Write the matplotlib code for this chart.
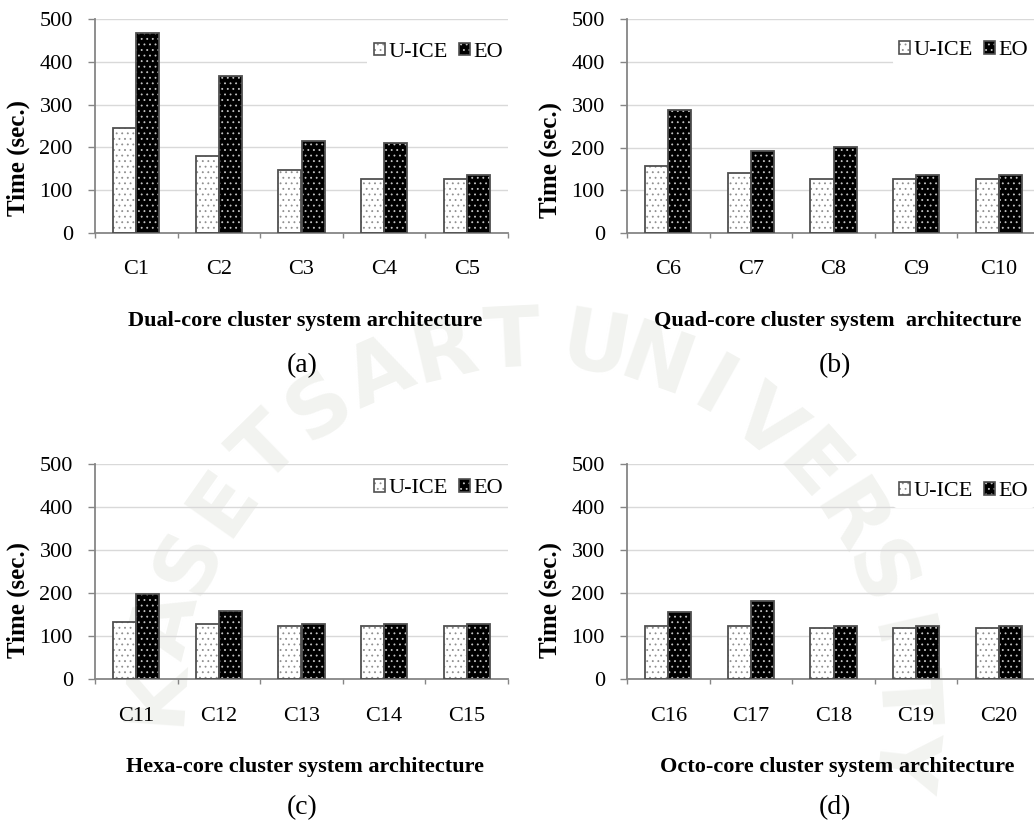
import numpy as np
import matplotlib
matplotlib.use("Agg")
import matplotlib.pyplot as plt
from matplotlib.patches import Patch
from matplotlib.legend_handler import HandlerTuple

# ---- data -------------------------------------------------------------
series_names = ["U-ICE", "EO"]

cats_dual = ["C1", "C2", "C3", "C4", "C5"]
uice_dual = [246, 180, 148, 126, 126]
eo_dual = [468, 366, 216, 210, 136]

cats_quad = ["C6", "C7", "C8", "C9", "C10"]
uice_quad = [157, 140, 126, 126, 126]
eo_quad = [287, 193, 202, 136, 136]

cats_hexa = ["C11", "C12", "C13", "C14", "C15"]
uice_hexa = [131, 126, 122, 122, 122]
eo_hexa = [197, 157, 126, 126, 126]

cats_octo = ["C16", "C17", "C18", "C19", "C20"]
uice_octo = [122, 122, 118, 118, 118]
eo_octo = [154, 180, 122, 122, 122]

xlabels = ["Dual-core cluster system architecture",
           "Quad-core cluster system  architecture",
           "Hexa-core cluster system architecture",
           "Octo-core cluster system architecture"]
panel_tags = ["(a)", "(b)", "(c)", "(d)"]
y_ticks = [0, 100, 200, 300, 400, 500]
y_title = "Time (sec.)"
seal_text = "KASETSART UNIVERSITY"

# ---- style ------------------------------------------------------------
W, H = 1034, 822
DPI = 100
SERIF = ["Liberation Serif", "DejaVu Serif"]
plt.rcParams["font.family"] = SERIF
plt.rcParams["hatch.linewidth"] = 0.6

GRID = "#d9d9d9"
AXIS = "#868686"
EDGE = "#505050"
styles = [
    dict(face="white", dots="#8f8f8f"),   # U-ICE
    dict(face="black", dots="#c4c4c4"),   # EO
]
BAR_W = 0.28
HATCH = "..."

fig = plt.figure(figsize=(W / DPI, H / DPI), dpi=DPI)
fig.patch.set_facecolor("white")


def px_axes(left, top, right, bottom):
    return fig.add_axes([left / W, 1 - bottom / H, (right - left) / W, (bottom - top) / H])


# faint university seal lettering in the background
cx, cy, r = 530, 718, 375
angles_left = [176 - 10.4 * i for i in range(9)]
angles_right = [80 - 9.6 * i for i in range(10)]
for ch, ang in zip(seal_text.replace(" ", ""), angles_left + angles_right):
    a = np.deg2rad(ang)
    x = cx + r * np.cos(a)
    y = cy - r * np.sin(a)
    fig.text(x / W, 1 - y / H, ch, fontsize=60, fontweight="bold",
             family="DejaVu Sans", color="#f2f3f0", rotation=ang - 90,
             ha="center", va="center", zorder=-5)

panels = [
    (cats_dual, uice_dual, eo_dual, (95, 19, 508, 233)),
    (cats_quad, uice_quad, eo_quad, (627, 19.5, 1040, 233)),
    (cats_hexa, uice_hexa, eo_hexa, (95, 464, 508, 678.5)),
    (cats_octo, uice_octo, eo_octo, (627, 464, 1040, 678.5)),
]
legend_y = [0.845, 0.855, 0.885, 0.872]
legend_x = [1.004, 0.988, 1.004, 0.988]
label_rows = [(270, 321, 366), (270, 321, 366), (716, 767, 808), (716, 767, 808)]
ytitle_y = [158, 160, 600, 600]

for k, (cats, uice, eo, box) in enumerate(panels):
    left, top, right, bottom = box
    ax = px_axes(left, top, right, bottom)
    ax.patch.set_alpha(0)
    x = np.arange(len(cats))
    handles = []
    for vals, st, off in zip([uice, eo], styles, [-BAR_W / 2, BAR_W / 2]):
        ax.bar(x + off, vals, BAR_W, color=st["face"], edgecolor=st["dots"],
               hatch=HATCH, linewidth=0, zorder=2)
        ax.bar(x + off, vals, BAR_W, facecolor="none", edgecolor=EDGE,
               linewidth=1.3, zorder=3)
        handles.append((Patch(facecolor=st["face"], edgecolor=st["dots"], hatch=HATCH, linewidth=0),
                        Patch(facecolor="none", edgecolor=EDGE, linewidth=1.2)))

    ax.set_xlim(-0.5, len(cats) - 0.5)
    ax.set_ylim(0, 500)
    ax.set_yticks(y_ticks)
    ax.yaxis.grid(True, color=GRID, linewidth=1.0)
    ax.set_axisbelow(True)
    for s in ["top", "right"]:
        ax.spines[s].set_visible(False)
    for s in ["left", "bottom"]:
        ax.spines[s].set_color(AXIS)
        ax.spines[s].set_linewidth(1.3)

    ax.tick_params(axis="y", length=5, width=1.0, color=AXIS, pad=11, labelsize=16)
    ax.set_xticks(x)
    ax.set_xticklabels(cats)
    ax.set_xticks(np.arange(-0.5, len(cats)), minor=True)
    ax.tick_params(axis="x", which="major", length=0, pad=(label_rows[k][0] - bottom) * 0.72, labelsize=16)
    ax.tick_params(axis="x", which="minor", length=3.5, width=1.0, color=AXIS)
    for lbl in ax.get_xticklabels():
        lbl.set_va("center")

    leg = ax.legend(handles, series_names, handler_map={tuple: HandlerTuple(ndivide=1)},
                    loc="center right", bbox_to_anchor=(legend_x[k], legend_y[k]), ncol=2,
                    frameon=True, fontsize=16, handlelength=0.5, handleheight=0.5,
                    handletextpad=0.15, columnspacing=0.5, borderpad=0.3,
                    borderaxespad=0.0)
    leg.get_frame().set_facecolor("white")
    leg.get_frame().set_edgecolor("none")
    leg.get_frame().set_alpha(1)

    ytx = left - 77
    fig.text(ytx / W, 1 - ytitle_y[k] / H, y_title, rotation=90, fontsize=18,
             fontweight="bold", ha="center", va="center")
    _, xl_y, tag_y = label_rows[k]
    mid = (left + right) / 2 + 4
    fig.text(mid / W, 1 - xl_y / H, xlabels[k], fontsize=16, fontweight="bold",
             ha="center", va="center")
    fig.text(((left + right) / 2 + 1) / W, 1 - tag_y / H, panel_tags[k], fontsize=20,
             ha="center", va="center")

fig.savefig("out.png", dpi=DPI, facecolor="white")
